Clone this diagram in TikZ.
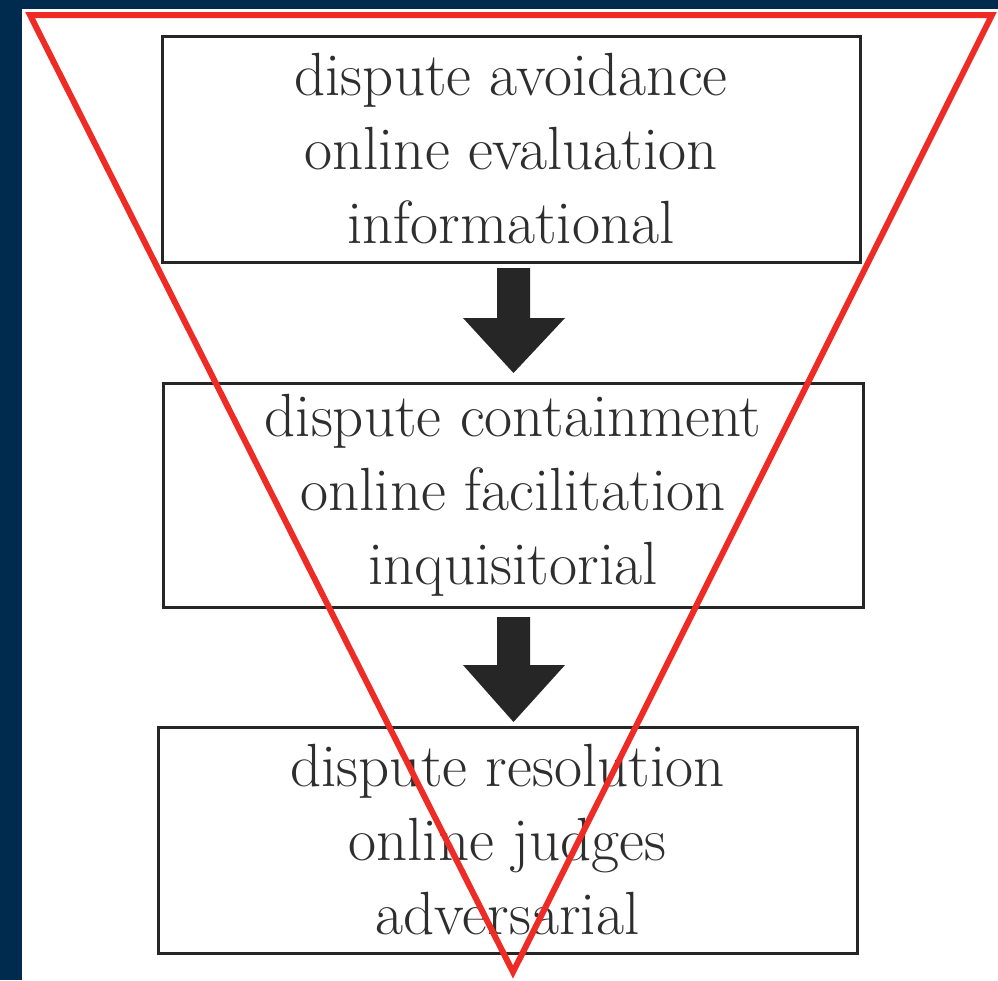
\documentclass[tikz,border=0pt]{standalone}
\usepackage{fontspec}
\definecolor{navy}{HTML}{002A4E}
\definecolor{tri}{HTML}{EE2B25}
\definecolor{txt}{HTML}{2E2E2E}
\definecolor{arr}{HTML}{262626}
\begin{document}
\begin{tikzpicture}[x=1pt,y=-1pt,
  stagebox/.style={draw=black!85,line width=3pt,fill=white,minimum width=#1,inner sep=0pt,
    font=\fontsize{61}{74}\selectfont,text=txt,align=center},
  blockarrow/.style={fill=arr,draw=none}]
\fill[navy] (0,0) rectangle (998,980);
\fill[white] (22,9) rectangle (998,980);
\useasboundingbox (0,0) rectangle (998,980);
% boxes
\node[stagebox=698pt,minimum height=226pt] (b1) at (511,149) {dispute avoidance\\online evaluation\\informational};
\node[stagebox=700pt,minimum height=224pt] (b2) at (513,495) {dispute containment\\online facilitation\\inquisitorial};
\node[stagebox=699pt,minimum height=226pt] (b3) at (507.5,840) {dispute resolution\\online judges\\adversarial};
% arrows
\fill[blockarrow] (497,268) -- (530,268) -- (530,318) -- (565,318) -- (513.5,373) -- (463,318) -- (497,318) -- cycle;
\fill[blockarrow] (497,617) -- (530,617) -- (530,665) -- (565,665) -- (513.5,722) -- (463,665) -- (497,665) -- cycle;
% triangle
\coordinate (tl) at (30,15);
\coordinate (tr) at (992,15);
\coordinate (bt) at (513,972);
\draw[tri,line width=6pt,line join=miter] (tl) -- (tr) -- (bt) -- cycle;
\end{tikzpicture}
\end{document}
